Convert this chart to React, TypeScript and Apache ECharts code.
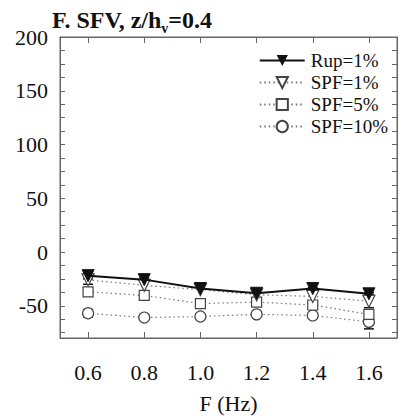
import React, { useEffect, useRef } from "react";
import * as echarts from "echarts";

const freqs = [0.6, 0.8, 1.0, 1.2, 1.4, 1.6];
const rup1 = [-22, -25.7, -34, -38.4, -34, -38.9];
const spf1 = [-26, -31, -35, -39.8, -41.3, -45.8];
const spf5 = [-37, -40.4, -48, -46.6, -49.3, -58];
const spf10 = [-57, -61, -60, -58, -59, -65];
const rup1Err = [3, 1.5, 0, 0, 1, 1];
const spf1Err = [4, 0, 0, 0, 0, 6];
const spf5Err = [0, 0, 0, 0, 0, 3];
const spf10Err = [3.5, 0, 0, 0, 0, 6.5];
const xTicks = [0.6, 0.8, 1.0, 1.2, 1.4, 1.6];
const yLabels = [-50, 0, 50, 100, 150, 200];
const yMinorTicks = [-75, -62.5, -50, -37.5, -25, -12.5, 0, 12.5, 25, 37.5, 50, 62.5, 75, 87.5, 100, 112.5, 125, 137.5, 150, 162.5, 175, 187.5];
const names = ["Rup=1%", "SPF=1%", "SPF=5%", "SPF=10%"];

const FONT = "Liberation Serif";
const AXIS_COLOR = "#666";

function errSeries(vals: number[], errs: number[]) {
  const data = freqs
    .map((f, i) => [f, vals[i], errs[i]])
    .filter((d) => d[2] > 0);
  return {
    type: "custom",
    silent: true,
    z: 1,
    data,
    encode: { x: 0, y: 1 },
    renderItem: (params: any, api: any) => {
      const x = api.value(0);
      const y = api.value(1);
      const e = api.value(2);
      const hi = api.coord([x, y + e]);
      const lo = api.coord([x, y - e]);
      const w = 5;
      const style = { stroke: "#111", lineWidth: 1.5 };
      return {
        type: "group",
        children: [
          { type: "line", shape: { x1: hi[0], y1: hi[1], x2: lo[0], y2: lo[1] }, style },
          { type: "line", shape: { x1: hi[0] - w, y1: hi[1], x2: hi[0] + w, y2: hi[1] }, style },
          { type: "line", shape: { x1: lo[0] - w, y1: lo[1], x2: lo[0] + w, y2: lo[1] }, style },
        ],
      };
    },
  };
}

export default function App() {
  const ref = useRef<HTMLDivElement>(null);
  useEffect(() => {
    document.body.style.margin = "0";
    const chart = echarts.init(ref.current!, null, { renderer: "svg" });
    const pts = (arr: number[]) => freqs.map((f, i) => [f, arr[i]]);
    const dotted = {
      type: "line",
      z: 3,
      symbolSize: 11,
      lineStyle: { type: [1.5, 3], width: 1.2, color: "#777" },
      itemStyle: { color: "#fff", borderColor: "#444", borderWidth: 1.2 },
    };
    chart.setOption({
      animation: false,
      backgroundColor: "#fff",
      title: {
        left: 47,
        top: 2,
        text: "{a|F. SFV, z/h}{s|v}{a|=0.4}",
        textStyle: {
          rich: {
            a: { fontFamily: FONT, fontWeight: "bold", fontSize: 24, color: "#111", lineHeight: 26 },
            s: { fontFamily: FONT, fontWeight: "bold", fontSize: 14, color: "#111", lineHeight: 26, padding: [16, 0, 0, 0] },
          },
        },
      },
      legend: {
        orient: "vertical",
        right: 10,
        top: 46,
        itemWidth: 45,
        itemHeight: 14,
        itemGap: 3,
        data: names,
        textStyle: { fontFamily: FONT, fontSize: 19, color: "#111", padding: [0, 0, 0, 1] },
      },
      grid: { left: 60, right: 6, top: 37, bottom: 65, show: true, borderColor: AXIS_COLOR, borderWidth: 1 },
      xAxis: [
        {
          type: "value",
          min: 0.5,
          max: 1.7,
          position: "bottom",
          name: "F (Hz)",
          nameLocation: "middle",
          nameGap: 54,
          nameTextStyle: { fontFamily: FONT, fontSize: 22, color: "#111" },
          axisLine: { show: true, onZero: false, lineStyle: { color: AXIS_COLOR } },
          axisTick: { show: true, inside: true, length: 6, customValues: xTicks, lineStyle: { color: AXIS_COLOR } },
          axisLabel: { customValues: xTicks, fontFamily: FONT, fontSize: 22, color: "#111", margin: 23, formatter: (v: number) => v.toFixed(1) },
          splitLine: { show: false },
        },
        {
          type: "value",
          min: 0.5,
          max: 1.7,
          position: "top",
          axisLine: { show: true, onZero: false, lineStyle: { color: AXIS_COLOR } },
          axisTick: { show: true, inside: true, length: 6, customValues: xTicks, lineStyle: { color: AXIS_COLOR } },
          axisLabel: { show: false },
          splitLine: { show: false },
        },
      ],
      yAxis: [
        {
          type: "value",
          min: -80,
          max: 200,
          position: "left",
          axisLine: { show: true, onZero: false, lineStyle: { color: AXIS_COLOR } },
          axisTick: { show: true, inside: true, length: 5, customValues: yMinorTicks, lineStyle: { color: AXIS_COLOR } },
          axisLabel: { customValues: yLabels, fontFamily: FONT, fontSize: 22, color: "#111", margin: 12 },
          splitLine: { show: false },
        },
        {
          type: "value",
          min: -80,
          max: 200,
          position: "right",
          axisLine: { show: true, onZero: false, lineStyle: { color: AXIS_COLOR } },
          axisTick: { show: true, inside: true, length: 5, customValues: yMinorTicks, lineStyle: { color: AXIS_COLOR } },
          axisLabel: { show: false },
          splitLine: { show: false },
        },
      ],
      series: [
        errSeries(rup1, rup1Err),
        errSeries(spf1, spf1Err),
        errSeries(spf5, spf5Err),
        errSeries(spf10, spf10Err),
        {
          ...dotted,
          name: names[3],
          symbol: "circle",
          data: pts(spf10),
        },
        {
          ...dotted,
          name: names[2],
          symbol: "rect",
          symbolSize: 10,
          data: pts(spf5),
        },
        {
          ...dotted,
          name: names[1],
          symbol: "triangle",
          symbolRotate: 180,
          symbolSize: 12,
          data: pts(spf1),
        },
        {
          type: "line",
          name: names[0],
          z: 4,
          symbol: "triangle",
          symbolRotate: 180,
          symbolSize: 12,
          lineStyle: { width: 2, color: "#111" },
          itemStyle: { color: "#111", borderColor: "#111" },
          data: pts(rup1),
        },
      ],
    });
    return () => chart.dispose();
  }, []);
  return <div ref={ref} style={{ width: 403, height: 419 }} />;
}
